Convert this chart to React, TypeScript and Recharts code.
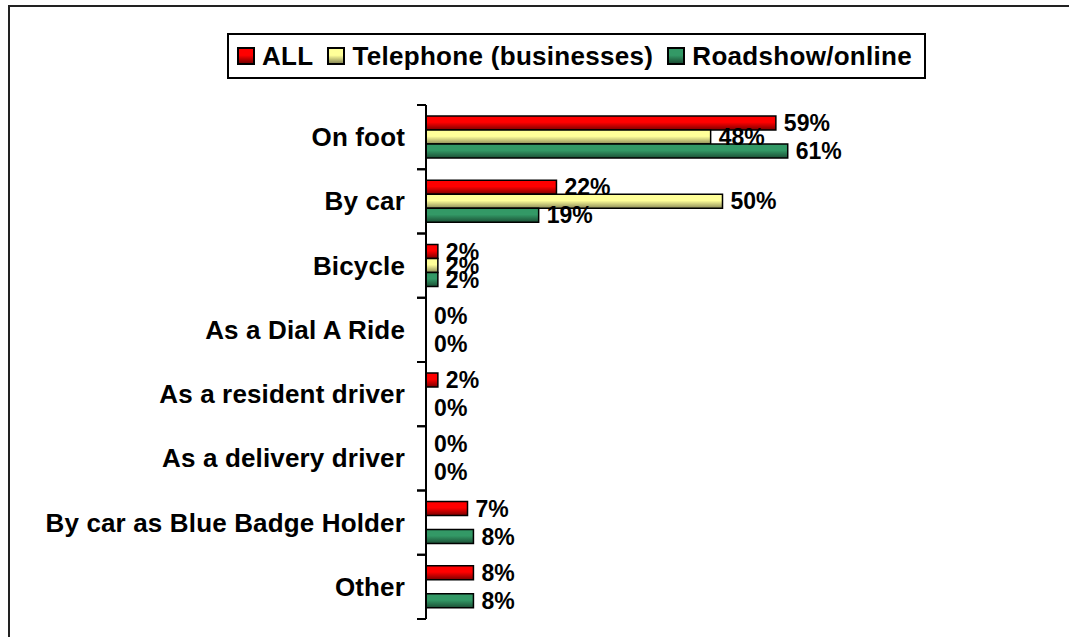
import React from 'react';
import { BarChart, Bar, XAxis, YAxis, Legend, LabelList } from 'recharts';

const categories = [
  'On foot',
  'By car',
  'Bicycle',
  'As a Dial A Ride',
  'As a resident driver',
  'As a delivery driver',
  'By car as Blue Badge Holder',
  'Other',
];
const allValues: (number | null)[] = [59, 22, 2, 0, 2, 0, 7, 8];
const telephoneValues: (number | null)[] = [48, 50, 2, null, null, null, null, null];
const roadshowValues: (number | null)[] = [61, 19, 2, 0, 0, 0, 8, 8];

const seriesNames = ['ALL', 'Telephone (businesses)', 'Roadshow/online'];
const seriesKeys = ['all', 'telephone', 'roadshow'];

const data = categories.map((name, i) => ({
  name,
  all: allValues[i],
  telephone: telephoneValues[i],
  roadshow: roadshowValues[i],
}));

const W = 1069;
const H = 637;
const MARGIN = { top: 105, right: 50, bottom: 18, left: 0 };
const Y_AXIS_WIDTH = 426;
const BAND = (H - MARGIN.top - MARGIN.bottom) / categories.length;
const FONT = '"Liberation Sans", Arial, Helvetica, sans-serif';

const swatch: Record<string, [string, string]> = {
  all: ['#ff0000', '#7a0000'],
  telephone: ['#ffff99', '#8c8c58'],
  roadshow: ['#339966', '#1b4f35'],
};

const CategoryTick = (props: any) => {
  const { x, y, payload } = props;
  return (
    <g>
      <text
        x={x}
        y={y}
        textAnchor="end"
        dominantBaseline="central"
        fontFamily={FONT}
        fontWeight="bold"
        fontSize={26}
        letterSpacing={0.15}
        fill="#000"
      >
        {payload.value}
      </text>
      <line x1={x + 12} x2={x + 21} y1={y - BAND / 2} y2={y - BAND / 2} stroke="#000" strokeWidth={2} />
      <line x1={x + 12} x2={x + 21} y1={y + BAND / 2} y2={y + BAND / 2} stroke="#000" strokeWidth={2} />
    </g>
  );
};

const renderLegend = (props: any) => {
  const payload: any[] = props.payload || [];
  const ordered = seriesNames
    .map((n) => payload.find((p) => p.value === n))
    .filter(Boolean);
  return (
    <div
      style={{
        boxSizing: 'border-box',
        width: 699,
        height: 46,
        border: '2px solid #000',
        background: '#fff',
        display: 'flex',
        alignItems: 'center',
        paddingLeft: 8,
        fontFamily: FONT,
        fontWeight: 'bold',
        fontSize: 26,
        letterSpacing: 0.3,
        color: '#000',
        whiteSpace: 'nowrap',
      }}
    >
      {ordered.map((p: any) => {
        const k = seriesKeys[seriesNames.indexOf(p.value)];
        const [c1, c2] = swatch[k];
        return (
          <div key={p.value} style={{ display: 'flex', alignItems: 'center', marginRight: 14 }}>
            <span
              style={{
                display: 'inline-block',
                boxSizing: 'border-box',
                width: 18,
                height: 18,
                border: '2px solid #000',
                background: `linear-gradient(to bottom, ${c1} 0%, ${c1} 45%, ${c2} 100%)`,
                marginRight: 7,
              }}
            />
            <span>{p.value}</span>
          </div>
        );
      })}
    </div>
  );
};

const fmt = (v: any) => (v === null || v === undefined ? '' : `${v}%`);

const labelProps = {
  position: 'right' as const,
  offset: 8,
  formatter: fmt,
  fill: '#000',
  fontFamily: FONT,
  fontWeight: 'bold',
  fontSize: 23,
};

const zeroMin = (v: any) => (v === 0 ? 0.1 : 0);

export default function App() {
  return (
    <div
      style={{
        position: 'fixed',
        left: 0,
        top: 0,
        width: W,
        height: H,
        overflow: 'hidden',
        background: '#fff',
      }}
    >
      <div
        style={{
          position: 'absolute',
          left: 8,
          top: 5,
          width: 1200,
          height: 800,
          border: '2px solid #222',
        }}
      />
      <div style={{ position: 'absolute', left: 0, top: 0 }}>
        <BarChart
          width={W}
          height={H}
          data={data}
          layout="vertical"
          margin={MARGIN}
          barCategoryGap={11}
          barGap={0}
        >
          <defs>
            {seriesKeys.map((k) => (
              <linearGradient key={k} id={`grad-${k}`} x1="0" y1="0" x2="0" y2="1">
                <stop offset="0%" stopColor={swatch[k][0]} />
                <stop offset="45%" stopColor={swatch[k][0]} />
                <stop offset="100%" stopColor={swatch[k][1]} />
              </linearGradient>
            ))}
          </defs>
          <XAxis type="number" domain={[0, 100]} hide />
          <YAxis
            type="category"
            dataKey="name"
            width={Y_AXIS_WIDTH}
            axisLine={{ stroke: '#000', strokeWidth: 2 }}
            tickLine={false}
            tickSize={0}
            tickMargin={21}
            tick={<CategoryTick />}
            interval={0}
          />
          <Legend
            layout="horizontal"
            verticalAlign="middle"
            align="center"
            content={renderLegend}
            wrapperStyle={{ left: 227, top: 33, width: 699, height: 46 }}
          />
          <Bar dataKey="all" name={seriesNames[0]} fill="url(#grad-all)" stroke="#000" strokeWidth={1.5} minPointSize={zeroMin} isAnimationActive={false}>
            <LabelList dataKey="all" {...labelProps} />
          </Bar>
          <Bar dataKey="telephone" name={seriesNames[1]} fill="url(#grad-telephone)" stroke="#000" strokeWidth={1.5} minPointSize={zeroMin} isAnimationActive={false}>
            <LabelList dataKey="telephone" {...labelProps} />
          </Bar>
          <Bar dataKey="roadshow" name={seriesNames[2]} fill="url(#grad-roadshow)" stroke="#000" strokeWidth={1.5} minPointSize={zeroMin} isAnimationActive={false}>
            <LabelList dataKey="roadshow" {...labelProps} />
          </Bar>
        </BarChart>
      </div>
    </div>
  );
}
